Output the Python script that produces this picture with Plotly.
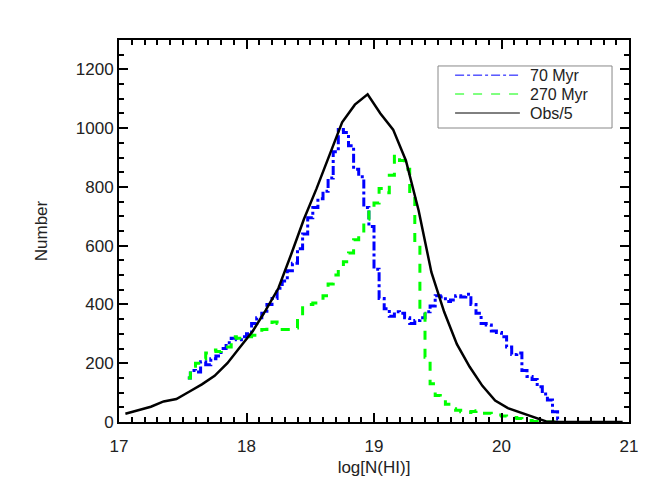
import numpy as np
import plotly.graph_objects as go

# Obs/5 curve (0.1 dex bins)
obs_x = [17.05, 17.15, 17.25, 17.35, 17.45, 17.55, 17.65, 17.75, 17.85, 17.95,
         18.05, 18.15, 18.25, 18.35, 18.45, 18.55, 18.65, 18.75, 18.85, 18.95,
         19.05, 19.15, 19.25, 19.35, 19.45, 19.55, 19.65, 19.75, 19.85, 19.95,
         20.05, 20.15, 20.25, 20.35, 20.45, 20.55, 20.65, 20.75, 20.85, 20.95]
obs_y = [28, 40, 52, 70, 78, 103, 128, 157, 200, 255,
         310, 380, 455, 570, 690, 795, 910, 1020, 1080, 1115,
         1050, 995, 890, 720, 510, 375, 265, 188, 123, 73,
         47, 32, 15, 2, 0, 0, 0, 0, 0, 0]

# simulated histograms, 0.04 dex bins starting at 17.52
bin_lo = 17.52
bin_w = 0.04
myr70 = [150, 175, 170, 205, 195, 215, 225, 250, 270, 285,
         280, 290, 300, 335, 355, 370, 400, 420, 455, 480,
         515, 540, 590, 640, 695, 730, 760, 785, 830, 920,
         995, 985, 940, 860, 835, 730, 665, 520, 420, 385,
         360, 375, 370, 355, 335, 345, 355, 375, 395, 430,
         425, 410, 415, 430, 425, 435, 400, 370, 335, 330,
         310, 305, 290, 255, 230, 235, 175, 155, 145, 120,
         95, 75, 35, 10]
myr270 = [150, 190, 200, 215, 235, 245, 240, 255, 255, 290,
          285, 290, 290, 295, 300, 315, 325, 340, 335, 315,
          315, 320, 345, 395, 400, 405, 410, 430, 470, 500,
          520, 545, 575, 620, 640, 690, 720, 745, 795, 780,
          840, 910, 890, 860, 770, 600, 370, 220, 130, 90,
          75, 60, 45, 40, 35, 32, 36, 38, 30, 30,
          25, 24, 20, 18, 15, 12, 8, 5, 2, 0,
          0, 0, 0, 0]

legend_names = ["70 Myr", "270 Myr", "Obs/5"]
colors = ['rgb(0,0,255)', 'rgb(0,255,0)', 'black']
dashes = ['dashdot', 'dash', 'solid']

centers = bin_lo + bin_w * (np.arange(len(myr70)) + 0.5)

fig = go.Figure()

fig.add_trace(go.Scatter(
    x=centers, y=myr70, mode='lines', line_shape='hvh',
    line=dict(color=colors[0], width=3, dash=dashes[0]),
    showlegend=False))
fig.add_trace(go.Scatter(
    x=centers, y=myr270, mode='lines', line_shape='hvh',
    line=dict(color=colors[1], width=3, dash=dashes[1]),
    showlegend=False))
fig.add_trace(go.Scatter(
    x=obs_x, y=obs_y, mode='lines',
    line=dict(color=colors[2], width=2.5),
    showlegend=False))

# hand-drawn legend box (IDL style, long line samples)
fig.add_shape(type='rect', xref='paper', yref='paper',
              x0=0.6255, x1=0.9667, y0=0.7696, y1=0.932,
              line=dict(color='#888', width=1), fillcolor='white', layer='above')
leg_y = [0.908, 0.8586, 0.8089]
for i, name in enumerate(legend_names):
    fig.add_shape(type='line', xref='paper', yref='paper',
                  x0=0.659, x1=0.786, y0=leg_y[i], y1=leg_y[i],
                  line=dict(color=colors[i], width=1, dash=dashes[i]), layer='above')
    fig.add_annotation(xref='paper', yref='paper', x=0.802, y=leg_y[i],
                       xanchor='left', yanchor='middle', showarrow=False,
                       text=name, font=dict(family='Liberation Sans', size=16, color='#222'))

axis_common = dict(
    showline=True, linecolor='black', linewidth=2, mirror='ticks',
    ticks='inside', ticklen=9, tickwidth=2, tickcolor='black',
    showgrid=False, zeroline=False,
    tickfont=dict(family='Liberation Sans', size=17, color='#222'),
)

fig.update_layout(
    width=664, height=499,
    margin={'l': 111, 'r': 43, 't': 32, 'b': 85},
    plot_bgcolor='white', paper_bgcolor='white',
    font=dict(family='Liberation Sans', size=16, color='#222'),
    showlegend=False,
    xaxis=dict(axis_common, range=[17, 21], dtick=1, tick0=17, ticklabelstandoff=8,
               minor=dict(dtick=0.1, ticks='inside', ticklen=5, tickwidth=1.5, tickcolor='black'),
               title=dict(text='log[N(HI)]', standoff=6,
                          font=dict(family='Liberation Sans', size=17))),
    yaxis=dict(axis_common, range=[0, 1300], dtick=200, tick0=0,
               minor=dict(dtick=50, ticks='inside', ticklen=5, tickwidth=1.5, tickcolor='black'),
               title=dict(text='Number', standoff=24,
                          font=dict(family='Liberation Sans', size=17))),
)

fig.write_html("out.html")
